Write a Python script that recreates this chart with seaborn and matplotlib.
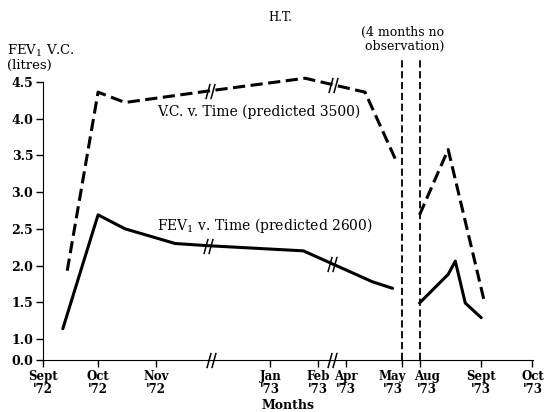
import numpy as np
import pandas as pd
import matplotlib
matplotlib.use('Agg')
import matplotlib.pyplot as plt
import matplotlib.transforms as mtransforms
from matplotlib.path import Path
import seaborn as sns

# x scale: about one unit per month, with the two breaks squeezed out
tick_pos = [0.0, 1.0, 2.05, 4.13, 5.0, 5.51, 6.53, 6.84, 7.96, 8.89]
tick_labels = ["Sept\n'72", "Oct\n'72", "Nov\n'72", "Jan\n'73", "Feb\n'73",
               "Apr\n'73", "May\n'73", "Aug\n'73", "Sept\n'73", "Oct\n'73"]
axis_breaks = [3.05, 5.25]
no_obs = [6.53, 6.84]

# V.C. (litres), two segments either side of the gap
vc_x1 = [0.44, 1.0, 1.49, 3.04, 4.76, 5.85, 6.40]
vc_y1 = [1.93, 4.36, 4.22, 4.38, 4.55, 4.36, 3.45]
vc_x2 = [6.84, 7.36, 8.02]
vc_y2 = [2.69, 3.58, 1.50]

# FEV1 (litres)
fev_x1 = [0.36, 1.0, 1.49, 2.40, 3.0, 4.73, 5.98, 6.35]
fev_y1 = [1.14, 2.69, 2.50, 2.30, 2.27, 2.20, 1.78, 1.69]
fev_x2 = [6.84, 7.36, 7.49, 7.67, 7.96]
fev_y2 = [1.49, 1.88, 2.06, 1.49, 1.29]

yticks = [1.0, 1.5, 2.0, 2.5, 3.0, 3.5, 4.0, 4.5]
y_zero = 0.714  # the 0.0 tick sits just below 1.0 (broken axis)

sns.set_style('ticks')
plt.rcParams['font.family'] = ['DejaVu Serif']
plt.rcParams['mathtext.fontset'] = 'dejavuserif'
for k in ['text.color', 'axes.labelcolor', 'xtick.color', 'ytick.color', 'axes.edgecolor']:
    plt.rcParams[k] = 'black'

df = pd.DataFrame({
    'x': vc_x1 + vc_x2 + fev_x1 + fev_x2,
    'y': vc_y1 + vc_y2 + fev_y1 + fev_y2,
    'seg': [0] * len(vc_x1) + [1] * len(vc_x2) + [2] * len(fev_x1) + [3] * len(fev_x2),
    'series': ['VC'] * (len(vc_x1) + len(vc_x2)) + ['FEV'] * (len(fev_x1) + len(fev_x2)),
})

fig = plt.figure(figsize=(5.45, 4.12), dpi=100)
ax = fig.add_axes([0.0789, 0.1262, 0.899, 0.675])

n0 = len(ax.lines)
sns.lineplot(data=df[df.series == 'VC'], x='x', y='y', units='seg', estimator=None,
             color='black', lw=2.2, ax=ax, sort=False)
for ln in ax.lines[n0:]:
    ln.set_dashes((4, 1.8))
sns.lineplot(data=df[df.series == 'FEV'], x='x', y='y', units='seg', estimator=None,
             color='black', lw=2.2, ax=ax, sort=False)
for ln in ax.lines:
    ln.set_clip_on(False)

# vertical lines bounding the unobserved period
ax.vlines(no_obs, y_zero, 4.80, colors='black', lw=1.3, linestyles=(0, (4, 2)), clip_on=False)

# "//" break marks on the lines and on the x axis
brk = Path([(-0.6, -1), (-0.05, 1), (0.05, -1), (0.6, 1)],
           [Path.MOVETO, Path.LINETO, Path.MOVETO, Path.LINETO])
vc_bx = [3.04, 5.27]
fev_bx = [3.0, 5.25]
mk = dict(ls='none', marker=brk, ms=11, mew=1.1, color='black', clip_on=False)
ax.plot(vc_bx, np.interp(vc_bx, vc_x1, vc_y1), **mk)
ax.plot(fev_bx, np.interp(fev_bx, fev_x1, fev_y1), **mk)
ax.plot(axis_breaks, [y_zero] * 2, **mk)

ax.set_xlim(0, 8.9)
ax.set_ylim(y_zero, 4.5)
ax.set_xticks(tick_pos)
ax.set_xticklabels(tick_labels, fontsize=8.5, fontweight='bold', linespacing=1.05)
ax.set_yticks([y_zero] + yticks)
ax.set_yticklabels(['0.0'] + ['%.1f' % v for v in yticks], fontsize=9, fontweight='bold')
ax.tick_params(length=5, width=1, pad=2, colors='black')
ax.set_xlabel('Months', fontsize=9, fontweight='bold', labelpad=2)
ax.set_ylabel('')
sns.despine(ax=ax)

# nudge the crowded May / Aug labels apart
xt = ax.get_xticklabels()
for lab, dx in [(xt[6], -10), (xt[7], 7)]:
    lab.set_transform(lab.get_transform() +
                      mtransforms.ScaledTranslation(dx / 100, 0, fig.dpi_scale_trans))

ax.text(2.07, 4.09, 'V.C. v. Time (predicted 3500)', fontsize=10, ha='left', va='center')
ax.text(2.07, 2.55, 'FEV$_1$ v. Time (predicted 2600)', fontsize=10, ha='left', va='center')

fig.text(0.515, 0.958, 'H.T.', fontsize=8.5, ha='center', va='center')
fig.text(0.738, 0.905, '(4 months no\n observation)', fontsize=9, ha='center', va='center',
         linespacing=1.1)
fig.text(0.013, 0.86, 'FEV$_1$ V.C.\n(litres)', fontsize=9.5, ha='left', va='center',
         linespacing=1.0)

fig.savefig('out.png', dpi=100)
